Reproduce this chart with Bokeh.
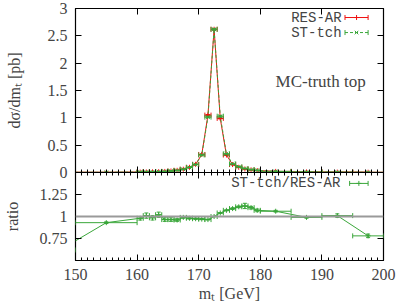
import math
from bokeh.plotting import figure
from bokeh.layouts import column
from bokeh.models import (ColumnDataSource, FixedTicker, LinearAxis, Range1d,
                          Label, Span, CustomJSTickFormatter)
from bokeh.embed import file_html
from bokeh.resources import INLINE

# ---------------- data ----------------
mt_center = [147.5, 155.0,
             160.5, 161.5, 162.5, 163.5, 164.5, 165.5, 166.5, 167.5, 168.5, 169.5,
             170.5, 171.5, 172.5, 173.5, 174.5, 175.5, 176.5, 177.5, 178.5, 179.5,
             182.5, 187.5, 192.5, 197.5]
bin_lo = [145, 150,
          160, 161, 162, 163, 164, 165, 166, 167, 168, 169,
          170, 171, 172, 173, 174, 175, 176, 177, 178, 179,
          180, 185, 190, 195]
bin_hi = [150, 160,
          161, 162, 163, 164, 165, 166, 167, 168, 169, 170,
          171, 172, 173, 174, 175, 176, 177, 178, 179, 180,
          185, 190, 195, 200]
res_ar = [0.004, 0.003,
          0.008, 0.010, 0.012, 0.015, 0.020, 0.027, 0.040, 0.060, 0.095, 0.150,
          0.330, 1.050, 2.620, 0.990, 0.320, 0.145, 0.095, 0.065, 0.048, 0.036,
          0.020, 0.010, 0.007, 0.005]
res_err = [0.001, 0.001,
           0.001, 0.001, 0.001, 0.001, 0.001, 0.001, 0.001, 0.002, 0.002, 0.003,
           0.005, 0.010, 0.015, 0.010, 0.005, 0.003, 0.002, 0.002, 0.002, 0.001,
           0.001, 0.001, 0.001, 0.001]
st_tch = [0.002, 0.003,
          0.008, 0.010, 0.012, 0.015, 0.019, 0.026, 0.038, 0.059, 0.093, 0.146,
          0.320, 1.013, 2.620, 1.030, 0.342, 0.158, 0.105, 0.073, 0.053, 0.039,
          0.021, 0.010, 0.007, 0.004]
st_err = [0.001, 0.001,
          0.001, 0.001, 0.001, 0.001, 0.001, 0.001, 0.001, 0.002, 0.002, 0.003,
          0.005, 0.010, 0.015, 0.010, 0.005, 0.003, 0.002, 0.002, 0.002, 0.001,
          0.001, 0.001, 0.001, 0.001]
ratio = [0.62, 0.93,
         0.98, 1.01, 0.985, 1.02, 0.965, 0.965, 0.96, 0.99, 0.98, 0.975,
         0.97, 0.965, 1.00, 1.04, 1.07, 1.09, 1.11, 1.12, 1.10, 1.07,
         1.06, 0.99, 1.01, 0.78]
ratio_err = [0.03, 0.01,
             0.02, 0.03, 0.025, 0.03, 0.02, 0.02, 0.015, 0.01, 0.01, 0.008,
             0.006, 0.004, 0.003, 0.004, 0.006, 0.01, 0.01, 0.03, 0.015, 0.015,
             0.01, 0.01, 0.02, 0.02]

x_major = [150, 160, 170, 180, 190, 200]
x_minor = list(range(150, 201))
y_top_ticks = [0, 0.5, 1, 1.5, 2, 2.5, 3]
y_ratio_ticks = [0.75, 1, 1.25]

RED = "#f01010"
GREEN = "#3aa63a"
SERIF = "Liberation Serif"
MONO = "Liberation Mono"

num_fmt = CustomJSTickFormatter(code="return tick.toString();")
blank_fmt = CustomJSTickFormatter(code="return '';")


def style_axis(ax, labels=True, minor=False, fs="16px"):
    ax.major_tick_in = 6
    ax.major_tick_out = 0
    ax.minor_tick_in = 3 if minor else 0
    ax.minor_tick_out = 0
    ax.axis_line_color = None
    ax.major_tick_line_color = "black"
    ax.minor_tick_line_color = "black"
    ax.major_label_text_font = SERIF
    ax.major_label_text_font_size = fs
    ax.major_label_standoff = 8 if labels else 0
    ax.axis_label_text_font = SERIF
    ax.axis_label_text_font_style = "normal"
    ax.axis_label_text_font_size = "16px"
    ax.formatter = num_fmt if labels else blank_fmt


def draw_series(p, x, y, lo, hi, e, color, dash="solid", marker="cross", line=True):
    src = ColumnDataSource(dict(x=x, y=y, lo=lo, hi=hi,
                                ylo=[a - b for a, b in zip(y, e)],
                                yhi=[a + b for a, b in zip(y, e)]))
    if line:
        p.line("x", "y", source=src, line_color=color, line_width=1, line_dash=dash)
    p.segment("lo", "y", "hi", "y", source=src, line_color=color, line_width=1)
    p.segment("x", "ylo", "x", "yhi", source=src, line_color=color, line_width=1)
    for col in ("lo", "hi"):
        p.scatter(col, "y", source=src, marker="dash", angle=math.pi / 2, size=5,
                  line_color=color, line_width=1)
    for col in ("ylo", "yhi"):
        p.scatter("x", col, source=src, marker="dash", size=4,
                  line_color=color, line_width=1)
    p.scatter("x", "y", source=src, marker=marker, size=5, line_color=color,
              line_width=1)


def legend_sample(p, x0, x1, y, color, dash, marker):
    xm = 0.5 * (x0 + x1)
    p.line([x0, x1], [y, y], line_color=color, line_width=1, line_dash=dash)
    p.scatter([x0, x1], [y, y], marker="dash", angle=math.pi / 2, size=5,
              line_color=color, line_width=1)
    p.scatter([xm], [y], marker=marker, size=5, line_color=color, line_width=1)


W = 399
# ---------------- top panel ----------------
p1 = figure(width=W, height=179, x_range=Range1d(150, 200), y_range=Range1d(0, 3),
            output_backend="svg", toolbar_location=None,
            min_border_left=63, min_border_right=16, min_border_top=8,
            min_border_bottom=7, y_axis_label="dσ/dmₜ [pb]")
p1.xgrid.visible = False
p1.ygrid.visible = False
p1.outline_line_color = "black"
p1.outline_line_width = 1.2
p1.background_fill_color = "white"
p1.border_fill_color = None

p1.xaxis.ticker = FixedTicker(ticks=x_major, minor_ticks=x_minor)
style_axis(p1.xaxis[0], labels=False, minor=True)
p1.yaxis.ticker = FixedTicker(ticks=y_top_ticks, minor_ticks=[])
style_axis(p1.yaxis[0], labels=True)
p1.yaxis.axis_label_standoff = 22

ax = LinearAxis(ticker=FixedTicker(ticks=x_major, minor_ticks=[]))
style_axis(ax, labels=False)
p1.add_layout(ax, "above")
ax = LinearAxis(ticker=FixedTicker(ticks=y_top_ticks, minor_ticks=[]))
style_axis(ax, labels=False)
p1.add_layout(ax, "right")

draw_series(p1, mt_center, res_ar, bin_lo, bin_hi, res_err, RED, "solid", "cross")
draw_series(p1, mt_center, st_tch, bin_lo, bin_hi, st_err, GREEN, "3 2", "x")

p1.add_layout(Label(x=193.2, y=2.835, text="RES-AR", text_align="right",
                    text_baseline="middle", text_font=MONO, text_font_size="14px"))
p1.add_layout(Label(x=193.2, y=2.56, text="ST-tch", text_align="right",
                    text_baseline="middle", text_font=MONO, text_font_size="14px"))
legend_sample(p1, 193.75, 197.5, 2.835, RED, "solid", "cross")
legend_sample(p1, 193.75, 197.5, 2.56, GREEN, "3 2", "x")
p1.add_layout(Label(x=189.8, y=1.665, text="MC-truth top", text_align="center",
                    text_baseline="middle", text_font=SERIF, text_font_size="17px"))

# ---------------- ratio panel ----------------
p2 = figure(width=W, height=139, x_range=Range1d(150, 200), y_range=Range1d(0.5, 1.5),
            output_backend="svg", toolbar_location=None,
            min_border_left=63, min_border_right=16, min_border_top=7,
            min_border_bottom=43, x_axis_label="mₜ [GeV]", y_axis_label="ratio")
p2.margin = (-14, 0, 0, 0)
p2.xgrid.visible = False
p2.ygrid.visible = False
p2.outline_line_color = "black"
p2.outline_line_width = 1.2
p2.background_fill_color = "white"
p2.border_fill_color = None

p2.xaxis.ticker = FixedTicker(ticks=x_major, minor_ticks=x_minor)
style_axis(p2.xaxis[0], labels=True, minor=True)
p2.xaxis.axis_label_standoff = 2
p2.yaxis.ticker = FixedTicker(ticks=y_ratio_ticks, minor_ticks=[])
style_axis(p2.yaxis[0], labels=True)
p2.yaxis.axis_label_standoff = 16

ax = LinearAxis(ticker=FixedTicker(ticks=x_major, minor_ticks=x_minor))
style_axis(ax, labels=False, minor=True)
p2.add_layout(ax, "above")
ax = LinearAxis(ticker=FixedTicker(ticks=y_ratio_ticks, minor_ticks=[]))
style_axis(ax, labels=False)
p2.add_layout(ax, "right")

p2.add_layout(Span(location=1.0, dimension="width", line_color="#9a9a9a", line_width=2))
draw_series(p2, mt_center, ratio, bin_lo, bin_hi, ratio_err, GREEN, "solid", "cross")

p2.add_layout(Label(x=193.0, y=1.376, text="ST-tch/RES-AR", text_align="right",
                    text_baseline="middle", text_font=MONO, text_font_size="14px"))
legend_sample(p2, 194.5, 197.5, 1.376, GREEN, "solid", "cross")

layout = column(p1, p2, spacing=0)
open("out.html", "w").write(file_html(layout, INLINE))
